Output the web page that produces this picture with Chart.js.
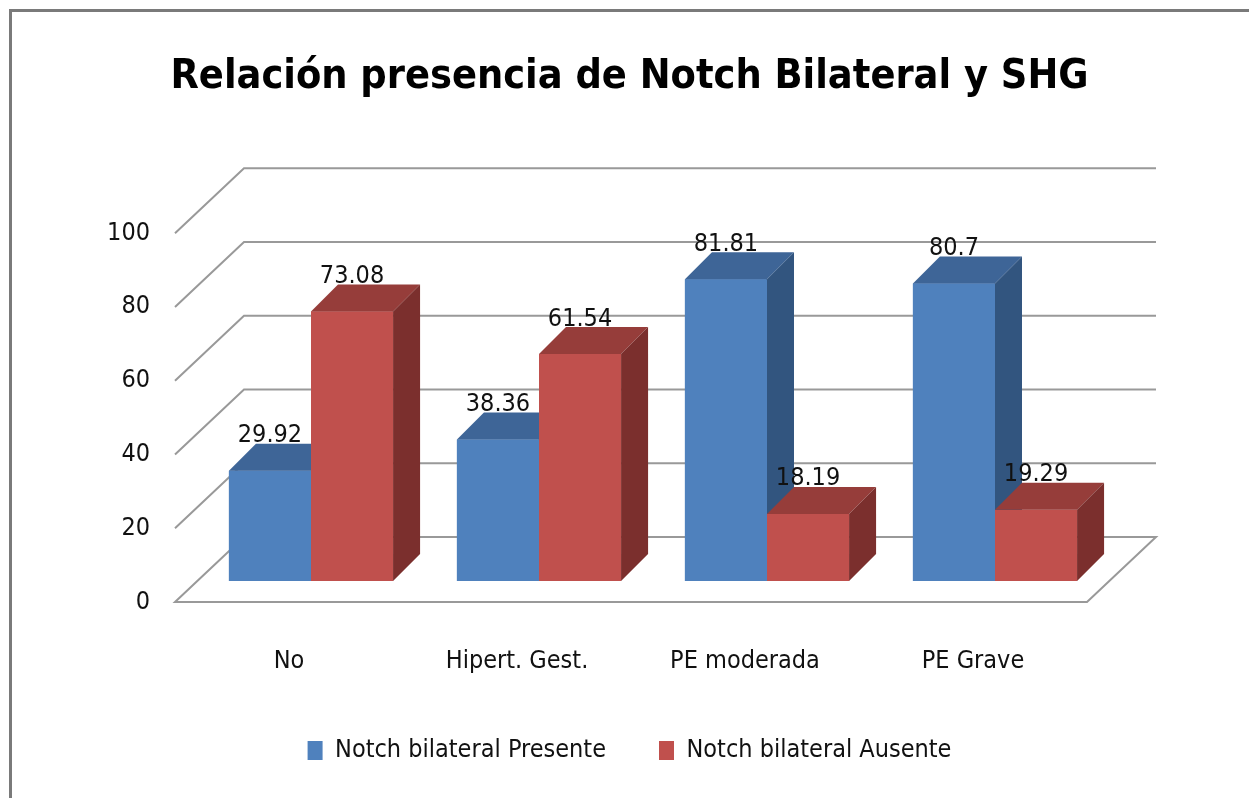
<!DOCTYPE html>
<html>
<head>
<meta charset="utf-8">
<script src="https://cdn.jsdelivr.net/npm/chart.js@4.4.1/dist/chart.umd.min.js"></script>
<style>
  html, body { margin: 0; padding: 0; background: #fff; overflow: hidden; }
</style>
</head>
<body>
<canvas id="chart" width="1249" height="798"></canvas>
<script>
// chart data
const categories = ['No', 'Hipert. Gest.', 'PE moderada', 'PE Grave'];
const presente = [29.92, 38.36, 81.81, 80.7];
const ausente = [73.08, 61.54, 18.19, 19.29];
const yTicks = [0, 20, 40, 60, 80, 100];
const seriesNames = ['Notch bilateral Presente', 'Notch bilateral Ausente'];

const FONT = "'Liberation Sans Narrow', 'DejaVu Sans Condensed', 'Arial Narrow', sans-serif";

// colours for front / top / side of each series
const faces = [
    { front: '#4F81BD', top: '#3E6597', side: '#32557F' },
    { front: '#C0504D', top: '#963D3A', side: '#7B2F2D' }
];

// 3D offsets: front plane, back wall, bar depth
const depth = { fx: -22, fy: 21, bx: 47, by: -44, dx: 27, dy: -27 };

function poly(ctx, color, pts) {
    ctx.fillStyle = color;
    ctx.beginPath();
    ctx.moveTo(pts[0][0], pts[0][1]);
    for (let i = 1; i < pts.length; i++) ctx.lineTo(pts[i][0], pts[i][1]);
    ctx.closePath();
    ctx.fill();
}

const bars3d = {
    id: 'bars3d',
    beforeDraw(chart) {
        const ctx = chart.ctx;
        ctx.save();
        ctx.fillStyle = '#fff';
        ctx.fillRect(0, 0, chart.width, chart.height);
        // outer frame (only top and left visible)
        ctx.strokeStyle = '#7a7a7a';
        ctx.lineWidth = 3;
        ctx.beginPath();
        ctx.moveTo(10.5, chart.height);
        ctx.lineTo(10.5, 10.5);
        ctx.lineTo(chart.width, 10.5);
        ctx.stroke();
        ctx.restore();
    },
    beforeDatasetsDraw(chart) {
        const { ctx, chartArea: a, scales: { y } } = chart;
        ctx.save();
        ctx.strokeStyle = '#999';
        ctx.lineWidth = 2;
        yTicks.forEach(v => {
            const py = y.getPixelForValue(v);
            ctx.beginPath();
            ctx.moveTo(a.left + depth.fx, py + depth.fy);
            ctx.lineTo(a.left + depth.bx, py + depth.by);
            ctx.lineTo(a.right + depth.bx, py + depth.by);
            if (v === 0) {
                ctx.lineTo(a.right + depth.fx, py + depth.fy);
                ctx.closePath();
            }
            ctx.stroke();
        });
        ctx.restore();
    },
    afterDatasetsDraw(chart) {
        const ctx = chart.ctx;
        const metas = chart.data.datasets.map((d, i) => chart.getDatasetMeta(i));
        ctx.save();
        categories.forEach((c, j) => {
            metas.forEach((meta, i) => {
                const b = meta.data[j].getProps(['x', 'y', 'base', 'width'], true);
                const l = b.x - b.width / 2, r = b.x + b.width / 2;
                const t = b.y, bt = b.base;
                const f = faces[i];
                ctx.fillStyle = f.front;
                ctx.fillRect(l, t, r - l, bt - t);
                poly(ctx, f.top, [[l, t], [r, t], [r + depth.dx, t + depth.dy], [l + depth.dx, t + depth.dy]]);
                poly(ctx, f.side, [[r, t], [r + depth.dx, t + depth.dy], [r + depth.dx, bt + depth.dy], [r, bt]]);
            });
        });
        // value labels
        ctx.font = '25px ' + FONT;
        ctx.fillStyle = '#111';
        ctx.textAlign = 'center';
        ctx.textBaseline = 'middle';
        metas.forEach((meta, i) => {
            meta.data.forEach((el, j) => {
                ctx.fillText(String(chart.data.datasets[i].data[j]), el.x, el.y - 35);
            });
        });
        ctx.restore();
    }
};

const ctx = document.getElementById('chart').getContext('2d');
const chart = new Chart(ctx, {
    type: 'bar',
    data: {
        labels: categories,
        datasets: [{
            label: seriesNames[0],
            data: presente,
            backgroundColor: faces[0].front,
            borderWidth: 0,
            barPercentage: 1,
            categoryPercentage: 0.72
        }, {
            label: seriesNames[1],
            data: ausente,
            backgroundColor: faces[1].front,
            borderWidth: 0,
            barPercentage: 1,
            categoryPercentage: 0.72
        }]
    },
    options: {
        responsive: false,
        animation: false,
        layout: { padding: { left: 25, right: 15, top: 0, bottom: 25 } },
        plugins: {
            title: {
                display: true,
                text: 'Relación presencia de Notch Bilateral y SHG',
                color: '#000',
                font: { family: FONT, size: 41, weight: 'bold' },
                padding: { top: 53, bottom: 110 }
            },
            legend: {
                position: 'bottom',
                labels: {
                    color: '#111',
                    font: { family: FONT, size: 25 },
                    boxWidth: 15,
                    boxHeight: 19,
                    padding: 53
                }
            },
            tooltip: { enabled: false }
        },
        scales: {
            x: {
                grid: { display: false, drawTicks: false },
                border: { display: false },
                ticks: {
                    color: '#111',
                    font: { family: FONT, size: 25 },
                    padding: 65,
                    labelOffset: -22,
                    maxRotation: 0,
                    autoSkip: false
                },
                afterFit(scale) { scale.height = 104; }
            },
            y: {
                min: 0,
                max: 100,
                grid: { display: false, drawTicks: false },
                border: { display: false },
                ticks: {
                    stepSize: 20,
                    color: '#111',
                    font: { family: FONT, size: 25 },
                    padding: 47,
                    labelOffset: 21
                },
                afterFit(scale) { scale.width = 172; }
            },
            yR: {
                position: 'right',
                grid: { display: false, drawTicks: false },
                border: { display: false },
                ticks: { display: false },
                afterFit(scale) { scale.width = 125; }
            }
        }
    },
    plugins: [bars3d]
});
</script>
</body>
</html>
